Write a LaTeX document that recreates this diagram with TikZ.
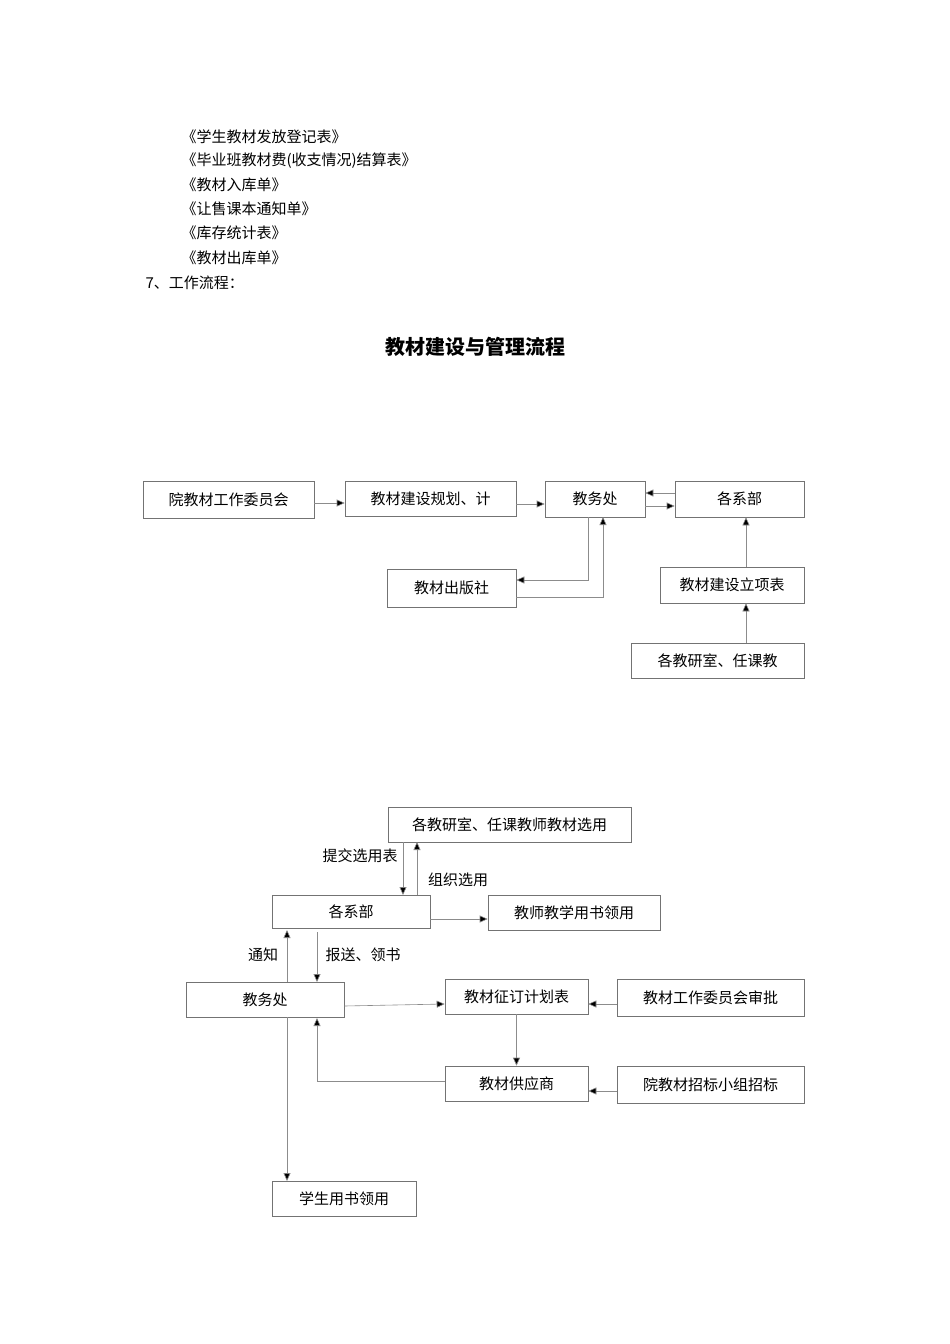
\documentclass[tikz,border=0pt]{standalone}
\usepackage{fontspec}
\setmainfont{Noto Sans CJK SC}
\usetikzlibrary{arrows.meta}
\begin{document}
\begin{tikzpicture}[x=1pt,y=-1pt,
  bx/.style={draw=black!55,line width=0.6pt,inner sep=0pt,font=\fontsize{15}{18}\selectfont},
  ar/.style={draw=black!45,line width=0.6pt,-{Triangle[fill=black,length=8pt,width=7pt]}},
  lb/.style={font=\fontsize{15}{18}\selectfont},
  tx/.style={font=\fontsize{15}{18}\selectfont,anchor=west}]
\path[use as bounding box,fill=white] (0,0) rectangle (950,1344);
\node[tx] (t1) at (178,137) {《学生教材发放登记表》};
\node[tx] (t2) at (178,161) {《毕业班教材费(收支情况)结算表》};
\node[tx] (t3) at (178,185) {《教材入库单》};
\node[tx] (t4) at (178,209) {《让售课本通知单》};
\node[tx] (t5) at (178,233) {《库存统计表》};
\node[tx] (t6) at (178,258) {《教材出库单》};
\node[tx] (t7) at (142,283) {7、工作流程：};
\node[font=\fontsize{20}{24}\selectfont\bfseries] (title) at (475,347) {教材建设与管理流程};
% top diagram
\node[bx,minimum width=171,minimum height=37] (A) at (228.5,499.5) {院教材工作委员会};
\node[bx,minimum width=171,minimum height=35] (B) at (430.5,498.5) {教材建设规划、计};
\node[bx,minimum width=100,minimum height=36] (C) at (595,499) {教务处};
\node[bx,minimum width=129,minimum height=36] (D) at (739.5,499) {各系部};
\node[bx,minimum width=129,minimum height=38] (E) at (451.5,588) {教材出版社};
\node[bx,minimum width=144,minimum height=36] (F) at (732,585) {教材建设立项表};
\node[bx,minimum width=173,minimum height=35] (G) at (717.5,660.5) {各教研室、任课教};
\draw[ar] (A.east|-0,503) -- (B.west|-0,503);
\draw[ar] (B.east|-0,504) -- (C.west|-0,504);
\draw[ar] (C.east|-0,506) -- (D.west|-0,506);
\draw[ar] (D.west|-0,493) -- (C.east|-0,493);
\draw[ar] (588,517) -- (588,580) -- (E.east|-0,580);
\draw[ar] (E.east|-0,597) -- (603,597) -- (603,517);
\draw[ar] (F.north-|746,0) -- (D.south-|746,0);
\draw[ar] (G.north-|746,0) -- (F.south-|746,0);
% bottom diagram
\node[bx,minimum width=243,minimum height=35] (H) at (509.5,824.5) {各教研室、任课教师教材选用};
\node[bx,minimum width=158,minimum height=33] (I) at (351,911.5) {各系部};
\node[bx,minimum width=172,minimum height=35] (J) at (574,912.5) {教师教学用书领用};
\node[bx,minimum width=158,minimum height=35] (K) at (265,999.5) {教务处};
\node[bx,minimum width=143,minimum height=35] (L) at (516.5,996.5) {教材征订计划表};
\node[bx,minimum width=187,minimum height=37] (M) at (710.5,997.5) {教材工作委员会审批};
\node[bx,minimum width=143,minimum height=35] (N) at (516.5,1083.5) {教材供应商};
\node[bx,minimum width=187,minimum height=37] (O) at (710.5,1084.5) {院教材招标小组招标};
\node[bx,minimum width=144,minimum height=35] (P) at (344,1198.5) {学生用书领用};
\draw[ar] (403,842) -- (403,895);
\draw[ar] (417,895) -- (417,842);
\node[lb] (l1) at (360,856) {提交选用表};
\node[lb] (l2) at (458,880) {组织选用};
\draw[ar] (I.east|-0,919) -- (J.west|-0,919);
\draw[ar] (287,982) -- (287,930);
\draw[ar] (317,932) -- (317,982);
\node[lb] (l3) at (263,955) {通知};
\node[lb] (l4) at (363,955) {报送、领书};
\draw[ar] (K.east|-0,1006) -- (L.west|-0,1004);
\draw[ar] (M.west|-0,1004) -- (L.east|-0,1004);
\draw[ar] (L.south) -- (N.north);
\draw[ar] (O.west|-0,1091) -- (N.east|-0,1091);
\draw[ar] (N.west|-0,1081) -- (317,1081) -- (317,1018);
\draw[ar] (287,1017) -- (287,1181);
\end{tikzpicture}
\end{document}
